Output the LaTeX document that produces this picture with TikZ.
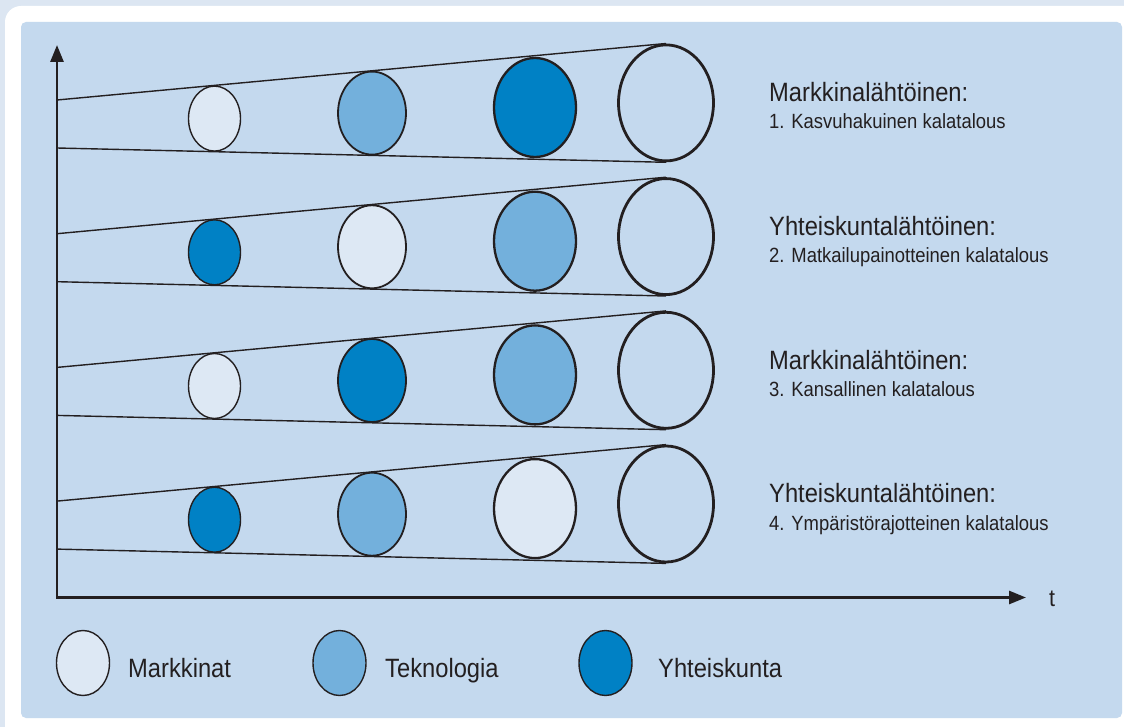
\documentclass[tikz,border=0pt]{standalone}
\usepackage{fontspec}
\setmainfont{Liberation Sans}[FakeStretch=0.895]
\usepackage{tikz}
\usetikzlibrary{arrows.meta}
\usetikzlibrary{shapes.geometric}
\definecolor{outerbg}{HTML}{DCE6F2}
\definecolor{panel}{HTML}{C4D9EE}
\definecolor{ink}{HTML}{231F20}
\definecolor{markk}{HTML}{DDE8F4}
\definecolor{tekno}{HTML}{73B0DC}
\definecolor{yhteis}{HTML}{0081C5}
\tikzset{
  blob/.style args={#1/#2}{ellipse, draw=ink, inner sep=0pt,
    minimum width=#1, minimum height=#2},
  funnel/.style={ink, line width=1.4pt},
  headtext/.style={anchor=base west, inner sep=0pt, text=ink,
    font=\fontsize{26.5}{30}\selectfont},
  subtext/.style={anchor=base west, inner sep=0pt, text=ink,
    font=\fontsize{20.6}{24}\selectfont}
}

\begin{document}
\begin{tikzpicture}[x=1pt, y=-1pt,
% axis arrows with solid triangle heads
axis/.style={ink, line width=2.8pt, line join=miter,
  {Triangle[length=17pt,width=13pt]}-{Triangle[length=17pt,width=13pt]}}]
% frame
\useasboundingbox (0,0) rectangle (1124,727);
\clip (0,0) rectangle (1124,727);
\fill[outerbg] (0,0) rectangle (1124,727);
\fill[white, rounded corners=16pt] (5,6) rectangle (1140,745);
\fill[panel, rounded corners=5pt] (21,22) rectangle (1122,718);
% axes
\coordinate (origin) at (57,597.5);
\coordinate (ytip) at (57,45);
\coordinate (xtip) at (1026,597.5);
\draw[axis] (ytip) -- (origin) -- (xtip);
\node[headtext, font=\fontsize{24}{28}\selectfont] (t) at (1049,606) {t};
% four scenarios
\foreach \r/\fa/\fb/\fc/\head/\sub in {
    0/markk/tekno/yhteis/Markkinalähtöinen:/1. Kasvuhakuinen kalatalous,
    1/yhteis/markk/tekno/Yhteiskuntalähtöinen:/2. Matkailupainotteinen kalatalous,
    2/markk/yhteis/tekno/Markkinalähtöinen:/3. Kansallinen kalatalous,
    3/yhteis/tekno/markk/Yhteiskuntalähtöinen:/4. Ympäristörajotteinen kalatalous} {
  \pgfmathsetmacro\yy{133.7*\r}
  \node[blob={52pt/65pt}, fill=\fa, line width=1.4pt] (a\r) at (214.5,{118.6+\yy}) {};
  \node[blob={68pt/83pt}, fill=\fb, line width=1.8pt] (b\r) at (372,{113.1+\yy}) {};
  \node[blob={82pt/99pt}, fill=\fc, line width=2.3pt] (c\r) at (535,{107.5+\yy}) {};
  \node[blob={95pt/116pt}, line width=2.8pt] (d\r) at (666,{102.9+\yy}) {};
  \coordinate (u\r) at (57,{100+\yy});
  \coordinate (l\r) at (57,{148+\yy});
  \draw[funnel] (u\r) -- (d\r.north);
  \draw[funnel] (l\r) -- (d\r.south);
  \node[headtext] (h\r) at (769,{101.7+\yy}) {\head};
  \node[subtext] (s\r) at ([yshift=-27.3pt]h\r.base west) {\sub};
}
% legend
\node[blob={53pt/65pt}, fill=markk, line width=1.4pt] (lm) at (83,663) {};
\node[blob={53pt/65pt}, fill=tekno, line width=1.4pt] (lt) at (339.5,663) {};
\node[blob={53pt/65pt}, fill=yhteis, line width=1.4pt] (ly) at (605.5,663) {};
\node[headtext] (tm) at (128,677) {Markkinat};
\node[headtext] (tt) at (385,677) {Teknologia};
\node[headtext] (ty) at (658,677) {Yhteiskunta};
\end{tikzpicture}
\end{document}
